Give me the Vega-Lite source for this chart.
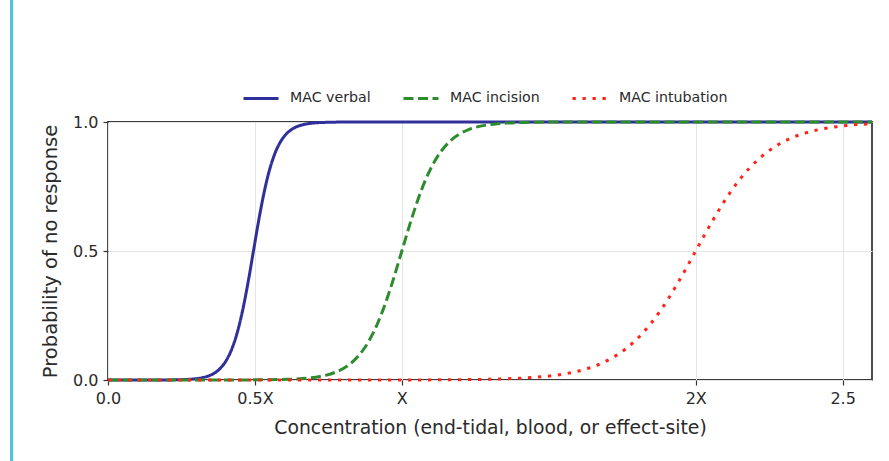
{
  "$schema": "https://vega.github.io/schema/vega-lite/v6.json",
  "width": 764,
  "height": 258,
  "autosize": "none",
  "padding": {"left": 108, "top": 122, "right": 17, "bottom": 81},
  "background": "white",
  "config": {
    "font": "DejaVu Sans",
    "view": {"stroke": "#3a3a3a", "strokeWidth": 1.8},
    "axis": {
      "domain": false,
      "grid": true,
      "gridColor": "#e4e4e4",
      "gridWidth": 1,
      "tickColor": "#333333",
      "tickSize": 5,
      "tickWidth": 1.2,
      "labelFont": "DejaVu Sans",
      "labelFontSize": 16,
      "labelColor": "#2a2a2a",
      "titleFont": "DejaVu Sans",
      "titleFontWeight": "normal",
      "titleColor": "#2a2a2a"
    }
  },
  "data": {
    "values": [
      {"series": "MAC verbal", "c": 0, "p": 0},
      {"series": "MAC verbal", "c": 0.2, "p": 0.0003},
      {"series": "MAC verbal", "c": 0.273, "p": 0.0025},
      {"series": "MAC verbal", "c": 0.2915, "p": 0.0041},
      {"series": "MAC verbal", "c": 0.31, "p": 0.0067},
      {"series": "MAC verbal", "c": 0.3285, "p": 0.011},
      {"series": "MAC verbal", "c": 0.347, "p": 0.018},
      {"series": "MAC verbal", "c": 0.3655, "p": 0.0293},
      {"series": "MAC verbal", "c": 0.384, "p": 0.0474},
      {"series": "MAC verbal", "c": 0.4025, "p": 0.0759},
      {"series": "MAC verbal", "c": 0.421, "p": 0.1192},
      {"series": "MAC verbal", "c": 0.4395, "p": 0.1824},
      {"series": "MAC verbal", "c": 0.458, "p": 0.2689},
      {"series": "MAC verbal", "c": 0.4765, "p": 0.3775},
      {"series": "MAC verbal", "c": 0.495, "p": 0.5},
      {"series": "MAC verbal", "c": 0.5135, "p": 0.6225},
      {"series": "MAC verbal", "c": 0.532, "p": 0.7311},
      {"series": "MAC verbal", "c": 0.5505, "p": 0.8176},
      {"series": "MAC verbal", "c": 0.569, "p": 0.8808},
      {"series": "MAC verbal", "c": 0.5875, "p": 0.9241},
      {"series": "MAC verbal", "c": 0.606, "p": 0.9526},
      {"series": "MAC verbal", "c": 0.6245, "p": 0.9707},
      {"series": "MAC verbal", "c": 0.643, "p": 0.982},
      {"series": "MAC verbal", "c": 0.6615, "p": 0.989},
      {"series": "MAC verbal", "c": 0.68, "p": 0.9933},
      {"series": "MAC verbal", "c": 0.6985, "p": 0.9959},
      {"series": "MAC verbal", "c": 0.717, "p": 0.9975},
      {"series": "MAC verbal", "c": 0.8, "p": 0.9997},
      {"series": "MAC verbal", "c": 2.6, "p": 1},

      {"series": "MAC incision", "c": 0, "p": 0},
      {"series": "MAC incision", "c": 0.4, "p": 0.0001},
      {"series": "MAC incision", "c": 0.61, "p": 0.0025},
      {"series": "MAC incision", "c": 0.6425, "p": 0.0041},
      {"series": "MAC incision", "c": 0.675, "p": 0.0067},
      {"series": "MAC incision", "c": 0.7075, "p": 0.011},
      {"series": "MAC incision", "c": 0.74, "p": 0.018},
      {"series": "MAC incision", "c": 0.7725, "p": 0.0293},
      {"series": "MAC incision", "c": 0.805, "p": 0.0474},
      {"series": "MAC incision", "c": 0.8375, "p": 0.0759},
      {"series": "MAC incision", "c": 0.87, "p": 0.1192},
      {"series": "MAC incision", "c": 0.9025, "p": 0.1824},
      {"series": "MAC incision", "c": 0.935, "p": 0.2689},
      {"series": "MAC incision", "c": 0.9675, "p": 0.3775},
      {"series": "MAC incision", "c": 1.0, "p": 0.5},
      {"series": "MAC incision", "c": 1.0325, "p": 0.6225},
      {"series": "MAC incision", "c": 1.065, "p": 0.7311},
      {"series": "MAC incision", "c": 1.0975, "p": 0.8176},
      {"series": "MAC incision", "c": 1.13, "p": 0.8808},
      {"series": "MAC incision", "c": 1.1625, "p": 0.9241},
      {"series": "MAC incision", "c": 1.195, "p": 0.9526},
      {"series": "MAC incision", "c": 1.2275, "p": 0.9707},
      {"series": "MAC incision", "c": 1.26, "p": 0.982},
      {"series": "MAC incision", "c": 1.2925, "p": 0.989},
      {"series": "MAC incision", "c": 1.325, "p": 0.9933},
      {"series": "MAC incision", "c": 1.3575, "p": 0.9959},
      {"series": "MAC incision", "c": 1.39, "p": 0.9975},
      {"series": "MAC incision", "c": 1.5, "p": 0.9996},
      {"series": "MAC incision", "c": 2.6, "p": 1},

      {"series": "MAC intubation", "c": 0, "p": 0},
      {"series": "MAC intubation", "c": 1.0, "p": 0.0002},
      {"series": "MAC intubation", "c": 1.28, "p": 0.0025},
      {"series": "MAC intubation", "c": 1.34, "p": 0.0041},
      {"series": "MAC intubation", "c": 1.4, "p": 0.0067},
      {"series": "MAC intubation", "c": 1.46, "p": 0.011},
      {"series": "MAC intubation", "c": 1.52, "p": 0.018},
      {"series": "MAC intubation", "c": 1.58, "p": 0.0293},
      {"series": "MAC intubation", "c": 1.64, "p": 0.0474},
      {"series": "MAC intubation", "c": 1.7, "p": 0.0759},
      {"series": "MAC intubation", "c": 1.76, "p": 0.1192},
      {"series": "MAC intubation", "c": 1.82, "p": 0.1824},
      {"series": "MAC intubation", "c": 1.88, "p": 0.2689},
      {"series": "MAC intubation", "c": 1.94, "p": 0.3775},
      {"series": "MAC intubation", "c": 2.0, "p": 0.5},
      {"series": "MAC intubation", "c": 2.06, "p": 0.6225},
      {"series": "MAC intubation", "c": 2.12, "p": 0.7311},
      {"series": "MAC intubation", "c": 2.18, "p": 0.8176},
      {"series": "MAC intubation", "c": 2.24, "p": 0.8808},
      {"series": "MAC intubation", "c": 2.3, "p": 0.9241},
      {"series": "MAC intubation", "c": 2.36, "p": 0.9526},
      {"series": "MAC intubation", "c": 2.42, "p": 0.9707},
      {"series": "MAC intubation", "c": 2.48, "p": 0.982},
      {"series": "MAC intubation", "c": 2.54, "p": 0.989},
      {"series": "MAC intubation", "c": 2.6, "p": 0.9933}
    ]
  },
  "layer": [
    {
      "mark": {"type": "rule", "clip": false, "color": "#4fc4d8", "strokeWidth": 2},
      "encoding": {
        "x": {"datum": -0.327, "type": "quantitative"},
        "y": {"datum": 1.48, "type": "quantitative"},
        "y2": {"datum": -0.32}
      }
    },
    {
      "mark": {"type": "line", "interpolate": "monotone", "strokeWidth": 3, "strokeCap": "butt"},
      "encoding": {
        "x": {
          "field": "c",
          "type": "quantitative",
          "scale": {"domain": [0, 2.6], "nice": false, "zero": false},
          "axis": {
            "values": [0, 0.5, 1, 2, 2.5],
            "labelExpr": "datum.value == 0 ? '0.0' : datum.value == 0.5 ? '0.5X' : datum.value == 1 ? 'X' : datum.value == 2 ? '2X' : '2.5'",
            "labelPadding": 5,
            "titlePadding": 12,
            "titleFontSize": 18.8,
            "labelFlush": false
          },
          "title": "Concentration (end-tidal, blood, or effect-site)"
        },
        "y": {
          "field": "p",
          "type": "quantitative",
          "scale": {"domain": [0, 1], "nice": false},
          "axis": {
            "values": [0, 0.5, 1],
            "format": ".1f",
            "labelPadding": 5,
            "titlePadding": 12,
            "titleFontSize": 19.5,
            "labelFlush": false
          },
          "title": "Probability of no response"
        },
        "color": {
          "field": "series",
          "type": "nominal",
          "sort": ["MAC verbal", "MAC incision", "MAC intubation"],
          "scale": {
            "domain": ["MAC verbal", "MAC incision", "MAC intubation"],
            "range": ["#30309a", "#2e8b2e", "#ff2418"]
          },
          "legend": {
            "title": null,
            "orient": "none",
            "direction": "horizontal",
            "legendX": 134,
            "legendY": -43,
            "symbolType": "stroke",
            "symbolSize": 1225,
            "symbolStrokeWidth": 3,
            "labelFontSize": 14.2,
            "labelFont": "DejaVu Sans",
            "labelColor": "#2a2a2a",
            "labelOffset": 10,
            "columnPadding": 26,
            "padding": 0
          }
        },
        "strokeDash": {
          "field": "series",
          "type": "nominal",
          "sort": ["MAC verbal", "MAC incision", "MAC intubation"],
          "scale": {
            "domain": ["MAC verbal", "MAC incision", "MAC intubation"],
            "range": [[1, 0], [10, 4.5], [3.3, 6.7]]
          },
          "legend": {
            "title": null,
            "orient": "none",
            "direction": "horizontal",
            "legendX": 134,
            "legendY": -43,
            "symbolType": "stroke",
            "symbolSize": 1225,
            "symbolStrokeWidth": 3,
            "labelFontSize": 14.2,
            "labelFont": "DejaVu Sans",
            "labelColor": "#2a2a2a",
            "labelOffset": 10,
            "columnPadding": 26,
            "padding": 0
          }
        }
      }
    }
  ]
}
